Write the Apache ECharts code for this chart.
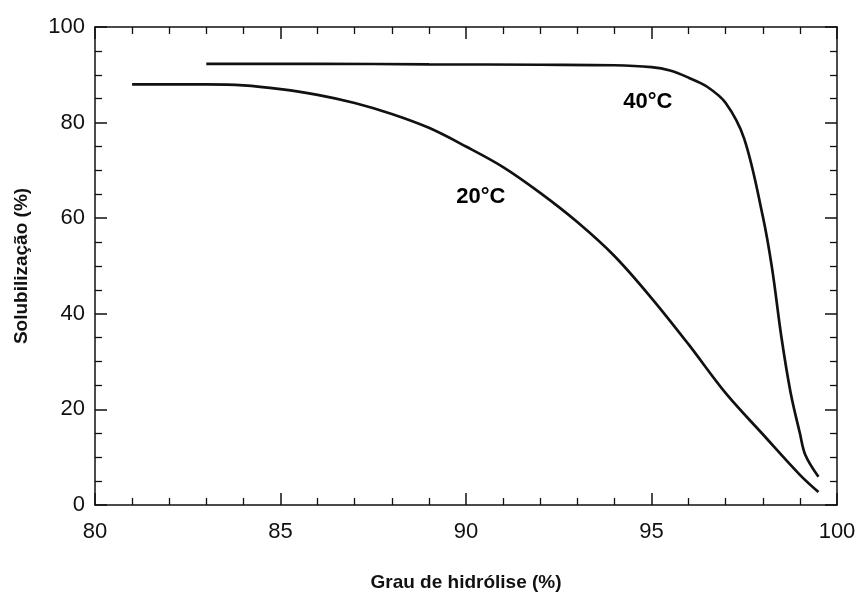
<!DOCTYPE html>
<html>
<head>
<meta charset="utf-8">
<script src="https://cdn.jsdelivr.net/npm/echarts@6/dist/echarts.min.js"></script>
<style>html,body{margin:0;padding:0;background:#fff}#c{width:861px;height:597px}</style>
</head>
<body>
<div id="c"></div>
<script>
// Data
const x20 = [81.0, 83.0, 84.0, 85.0, 86.0, 87.0, 88.0, 89.0, 90.0, 91.0, 92.0, 93.0, 94.0, 95.0, 96.0, 97.0, 98.0, 99.0, 99.5];
const y20 = [88.0, 88.0, 87.8, 87.0, 85.8, 84.1, 81.8, 78.9, 75.0, 70.7, 65.3, 59.2, 52.1, 43.3, 33.6, 23.4, 14.8, 6.3, 2.7];
const x40 = [83.0, 86.0, 89.0, 92.0, 94.0, 95.0, 95.5, 96.0, 96.5, 97.0, 97.5, 98.0, 98.25, 98.5, 98.75, 99.0, 99.15, 99.5];
const y40 = [92.3, 92.3, 92.2, 92.1, 92.0, 91.6, 90.9, 89.4, 87.5, 84.1, 76.6, 60.4, 49.5, 35.2, 23.5, 15.0, 10.4, 5.9];
const curveLabels = ['20°C', '40°C'];
const labelX = [90.4, 94.9];
const labelY = [64.5, 84.4];
const xTicks = [80, 85, 90, 95, 100];
const yTicks = [0, 20, 40, 60, 80, 100];
const xTitle = 'Grau de hidrólise (%)';
const yTitle = 'Solubilização (%)';

const FONT = 'Liberation Sans, Arial, Helvetica, sans-serif';
const pair = (xs, ys) => xs.map((v, i) => [v, ys[i]]);

const axisCommon = {
  type: 'value',
  axisLine: { show: true, onZero: false, lineStyle: { color: '#111', width: 1.5 } },
  axisTick: { show: true, inside: true, length: 12, lineStyle: { color: '#111', width: 1.5 } },
  minorTick: { show: true, length: 7, lineStyle: { color: '#111', width: 1.3 } },
  splitLine: { show: false },
  minorSplitLine: { show: false }
};

const chart = echarts.init(document.getElementById('c'));
chart.setOption({
  backgroundColor: '#fff',
  animation: false,
  grid: { left: 95, right: 24, top: 27, bottom: 90, containLabel: false },
  xAxis: [
    Object.assign({}, axisCommon, {
      position: 'bottom', min: xTicks[0], max: xTicks[xTicks.length - 1], interval: 5,
      minorTick: Object.assign({}, axisCommon.minorTick, { splitNumber: 5 }),
      axisLabel: { color: '#111', fontSize: 22, fontFamily: FONT, margin: 16 },
      name: xTitle, nameLocation: 'middle', nameGap: 68,
      nameTextStyle: { color: '#111', fontSize: 19, fontWeight: 'bold', fontFamily: FONT }
    }),
    Object.assign({}, axisCommon, {
      position: 'top', min: xTicks[0], max: xTicks[xTicks.length - 1], interval: 5,
      minorTick: Object.assign({}, axisCommon.minorTick, { splitNumber: 5 }),
      axisLabel: { show: false }
    })
  ],
  yAxis: [
    Object.assign({}, axisCommon, {
      position: 'left', min: yTicks[0], max: yTicks[yTicks.length - 1], interval: 20,
      minorTick: Object.assign({}, axisCommon.minorTick, { splitNumber: 4 }),
      axisLabel: { color: '#111', fontSize: 22, fontFamily: FONT, margin: 10 },
      name: yTitle, nameLocation: 'middle', nameGap: 64, nameRotate: 90,
      nameTextStyle: { color: '#111', fontSize: 19, fontWeight: 'bold', fontFamily: FONT }
    }),
    Object.assign({}, axisCommon, {
      position: 'right', min: yTicks[0], max: yTicks[yTicks.length - 1], interval: 20,
      minorTick: Object.assign({}, axisCommon.minorTick, { splitNumber: 4 }),
      axisLabel: { show: false }
    })
  ],
  series: [
    {
      name: '20°C', type: 'line', data: pair(x20, y20), smooth: 0.35, showSymbol: false,
      lineStyle: { color: '#111', width: 2.7 }
    },
    {
      name: '40°C', type: 'line', data: pair(x40, y40), smooth: 0.35, showSymbol: false,
      lineStyle: { color: '#111', width: 2.7 }
    },
    {
      type: 'scatter', symbolSize: 1, silent: true,
      itemStyle: { opacity: 0 },
      data: curveLabels.map((t, i) => ({ value: [labelX[i], labelY[i]], name: t })),
      label: {
        show: true, position: 'inside', formatter: p => p.name, opacity: 1,
        color: '#000', fontSize: 22, fontWeight: 'bold', fontFamily: FONT
      }
    }
  ]
});
</script>
</body>
</html>
